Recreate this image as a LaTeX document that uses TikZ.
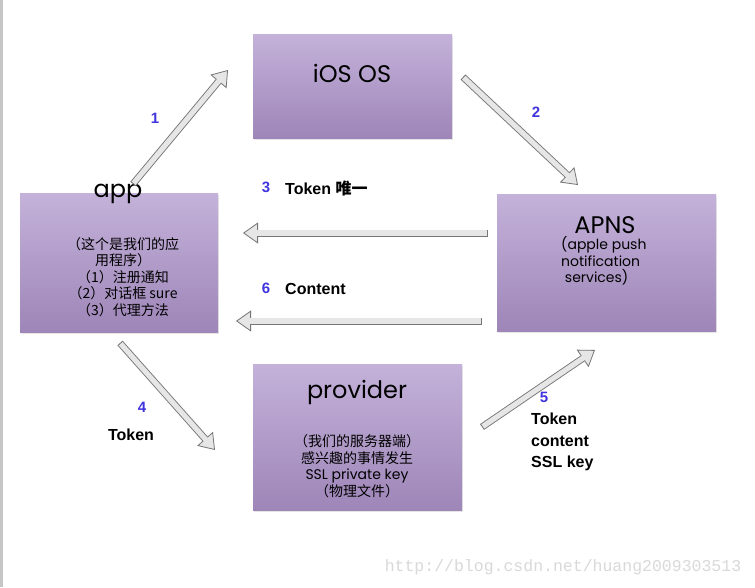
\documentclass[tikz,border=0pt]{standalone}
\usepackage{fontspec}
\setmainfont{Poppins}
\newfontfamily\cjk{Noto Sans CJK SC}
\newfontfamily\lbl{Liberation Sans}
\newfontfamily\wm{Liberation Mono}
\usetikzlibrary{arrows.meta,shadows}
\definecolor{boxtop}{RGB}{196,178,218}
\definecolor{boxbot}{RGB}{158,134,184}
\definecolor{stepblue}{RGB}{64,52,222}
\definecolor{arrowline}{RGB}{118,118,118}
\definecolor{arrowfill}{RGB}{230,230,230}

\tikzset{
  purplebox/.style={inner sep=0pt, top color=boxtop, bottom color=boxbot,
    drop shadow={shadow xshift=1pt, shadow yshift=-2pt, opacity=0.2}},
  boxtitle/.style={font=\fontsize{24}{26}\selectfont, inner sep=0pt},
  boxtext/.style={font=\fontsize{14}{16.5}\selectfont, align=center, inner sep=0pt},
  bigarrow/.style={draw=arrowline, line width=7pt,
    -{Triangle[length=15pt, width=21pt, fill=arrowfill, line width=0.8pt]},
    postaction={draw=arrowfill, line width=5.2pt, -, shorten <=1pt, shorten >=12.5pt}},
  stepno/.style={font=\lbl\bfseries\fontsize{15}{17}\selectfont, text=stepblue, inner sep=0pt},
  steplabel/.style={font=\lbl\bfseries\fontsize{16}{21.5}\selectfont, inner sep=0pt}
}

\begin{document}
\begin{tikzpicture}[x=1pt, y=-1pt]
    \useasboundingbox (0,0) rectangle (755,587);
    \fill[white] (0,0) rectangle (755,587);
    \draw[line width=3pt, gray!45] (1.5,0) -- (1.5,587);

    % boxes
    \node[purplebox, minimum width=199pt, minimum height=104pt] (ios) at (352.5, 86) {};
    \node[purplebox, minimum width=198pt, minimum height=139pt] (app) at (119, 262.5) {};
    \node[purplebox, minimum width=219pt, minimum height=137pt] (apns) at (606.5, 262.5) {};
    \node[purplebox, minimum width=209pt, minimum height=146pt] (prov) at (357.5, 437) {};

    \node[boxtitle] (iostitle) at (352, 73) {iOS OS};
    \node[boxtitle] (apptitle) at (118, 194) {app};
    \node[boxtext] (apptext) at (123, 277) {{\cjk （这个是我们的应}\\{\cjk 用程序）}\\{\cjk （1）注册通知}\\{\cjk （2）对话框 sure}\\{\cjk （3）代理方法}};
    \node[boxtitle] (apnstitle) at (605, 225) {APNS};
    \node[boxtext, align=left, anchor=west] (apnstext) at (561, 261) {(apple push\\notification\\\ services)};
    \node[boxtitle] (provtitle) at (357, 392) {provider};
    \node[boxtext] (provtext) at (357, 466) {{\cjk （我们的服务器端）}\\{\cjk 感兴趣的事情发生}\\SSL private key\\{\cjk （物理文件）}};

    % arrow ends
    \coordinate (s1) at (133, 184);  \coordinate (e1) at (228, 70);
    \coordinate (s2) at (463, 77);   \coordinate (e2) at (578, 185);
    \coordinate (s3) at (488, 233);  \coordinate (e3) at (243, 233);
    \coordinate (s6) at (482, 321);  \coordinate (e6) at (236, 321);
    \coordinate (s4) at (120, 343);  \coordinate (e4) at (215, 450);
    \coordinate (s5) at (482, 427);  \coordinate (e5) at (595, 350);

    \draw[bigarrow] (s1) -- (e1);
    \draw[bigarrow] (s2) -- (e2);
    \draw[bigarrow] (s3) -- (e3);
    \draw[bigarrow] (s6) -- (e6);
    \draw[bigarrow] (s4) -- (e4);
    \draw[bigarrow] (s5) -- (e5);

    % labels
    \node[stepno] (n1) at (155, 118) {1};
    \node[stepno] (n2) at (536, 112) {2};
    \node[stepno] (n3) at (266, 187) {3};
    \node[steplabel, anchor=west] (l3) at (285, 188) {Token {\cjk\bfseries 唯一}};
    \node[stepno] (n6) at (266, 288) {6};
    \node[steplabel, anchor=west] (l6) at (285, 289) {Content};
    \node[stepno] (n4) at (142, 407) {4};
    \node[steplabel] (l4) at (131, 435) {Token};
    \node[stepno] (n5) at (544, 397) {5};
    \node[steplabel, align=left, anchor=west] (l5) at (531, 442) {Token\\content\\SSL key};

    \node[font=\wm\fontsize{16.5}{18}\selectfont, text=gray!30, inner sep=0pt] (mark) at (563, 567) {http://blog.csdn.net/huang2009303513};
\end{tikzpicture}
\end{document}
